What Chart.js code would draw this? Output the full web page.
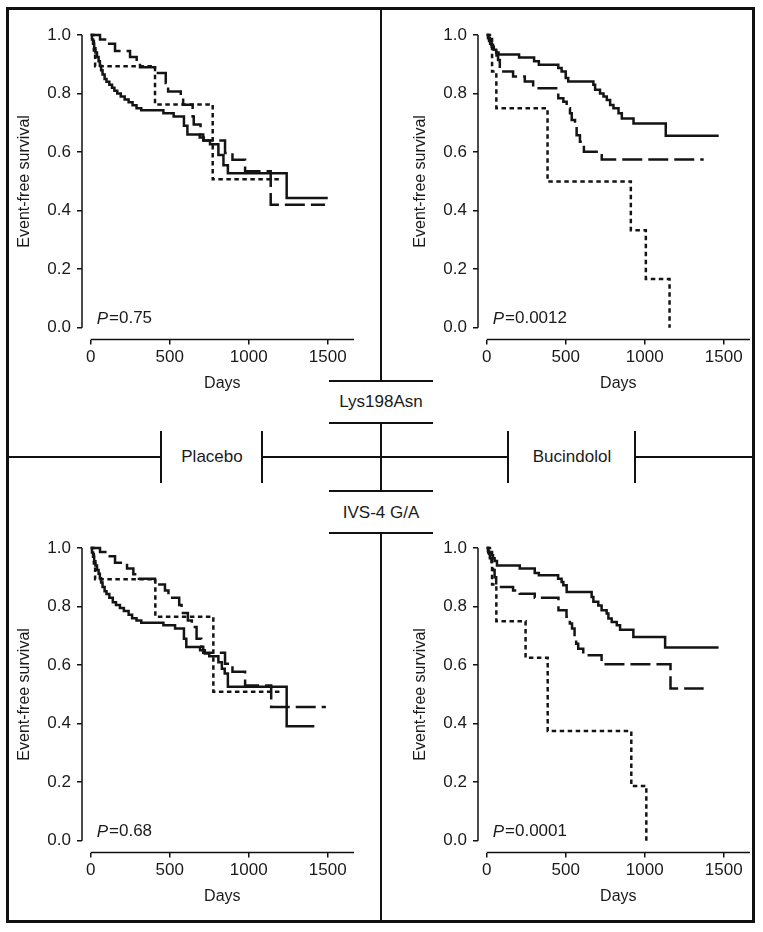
<!DOCTYPE html>
<html>
<head>
<meta charset="utf-8">
<title>Event-free survival by genotype: placebo vs bucindolol</title>
<script src="https://cdn.jsdelivr.net/npm/chart.js@4.4.1/dist/chart.umd.min.js"></script>
<style>
  body { margin: 0; background: #fff; }
  #figure {
    position: relative; width: 763px; height: 932px; background: #fff;
    font-family: "Liberation Sans", Arial, Helvetica, sans-serif; color: #1a1a1a;
  }
  .frame {
    position: absolute; left: 6px; top: 7px; width: 749px; height: 916px;
    border: 3px solid #111; box-sizing: border-box;
  }
  .hl, .vl { position: absolute; background: #111; }
  .hl { height: 2px; }
  .vl { width: 2px; }
  .label {
    position: absolute; width: 140px; height: 20px; line-height: 20px;
    font-size: 17px; text-align: center; white-space: nowrap;
  }
  canvas { position: absolute; }
</style>
</head>
<body>
<div id="figure">
  <div class="frame"></div>

  <!-- centre cross -->
  <div class="vl" style="left:380px;top:8px;height:373px"></div>
  <div class="vl" style="left:380px;top:422px;height:69px"></div>
  <div class="vl" style="left:380px;top:533px;height:389px"></div>
  <div class="hl" style="left:8px;top:456px;width:153px"></div>
  <div class="hl" style="left:261px;top:456px;width:248px"></div>
  <div class="hl" style="left:634px;top:456px;width:121px"></div>

  <!-- label brackets -->
  <div class="hl" style="left:329px;top:380px;width:104px"></div>
  <div class="hl" style="left:329px;top:422px;width:104px"></div>
  <div class="hl" style="left:329px;top:490px;width:104px"></div>
  <div class="hl" style="left:329px;top:532px;width:104px"></div>
  <div class="vl" style="left:160px;top:431px;height:52px"></div>
  <div class="vl" style="left:261px;top:431px;height:52px"></div>
  <div class="vl" style="left:507px;top:431px;height:52px"></div>
  <div class="vl" style="left:634px;top:431px;height:52px"></div>

  <div class="label" style="left:311px;top:392px">Lys198Asn</div>
  <div class="label" style="left:311px;top:503px">IVS-4 G/A</div>
  <div class="label" style="left:142px;top:447px">Placebo</div>
  <div class="label" style="left:502px;top:447px">Bucindolol</div>

  <canvas id="lys-placebo" width="365" height="400" style="left:0;top:0"></canvas>
  <canvas id="lys-bucindolol" width="365" height="400" style="left:396px;top:0"></canvas>
  <canvas id="ivs-placebo" width="365" height="400" style="left:0;top:513px"></canvas>
  <canvas id="ivs-bucindolol" width="365" height="400" style="left:396px;top:513px"></canvas>
</div>

<script>
// Axis ticks shared by the four panels
const dayTicks = [0, 500, 1000, 1500];
const survivalTicks = [0, 0.2, 0.4, 0.6, 0.8, 1.0];

// Kaplan-Meier curves as [day, event-free survival] steps

// Lys198Asn - placebo
const lysPlaceboSolid = [[0,1.0],[8,0.985],[15,0.97],[22,0.955],[30,0.94],[40,0.925],[50,0.91],[58,0.895],[66,0.88],[75,0.865],[88,0.85],[100,0.84],[118,0.83],[135,0.82],[150,0.81],[168,0.80],[190,0.79],[215,0.78],[240,0.77],[265,0.76],[290,0.75],[320,0.743],[460,0.733],[525,0.722],[590,0.69],[612,0.66],[690,0.65],[715,0.64],[755,0.627],[808,0.59],[840,0.555],[868,0.528],[1240,0.443],[1500,0.443]];
const lysPlaceboDashed = [[0,1.0],[59,0.985],[105,0.97],[154,0.945],[249,0.925],[291,0.905],[312,0.89],[407,0.87],[475,0.836],[490,0.807],[570,0.779],[585,0.762],[645,0.722],[652,0.694],[695,0.66],[712,0.64],[850,0.597],[897,0.574],[977,0.535],[1139,0.42],[1483,0.42]];
const lysPlaceboDotted = [[0,1.0],[20,0.947],[28,0.893],[407,0.763],[772,0.507],[1209,0.507]];
const lysPlaceboP = '0.75';

// Lys198Asn - bucindolol
const lysBucindololSolid = [[0,1.0],[8,0.99],[15,0.98],[22,0.97],[32,0.96],[45,0.95],[60,0.94],[75,0.933],[205,0.923],[300,0.91],[330,0.898],[453,0.887],[474,0.875],[500,0.853],[516,0.841],[675,0.83],[686,0.813],[717,0.80],[739,0.79],[760,0.778],[781,0.761],[802,0.75],[834,0.733],[855,0.715],[929,0.698],[1133,0.656],[1468,0.656]];
const lysBucindololDashed = [[0,1.0],[10,0.99],[20,0.978],[30,0.967],[40,0.955],[51,0.943],[62,0.93],[72,0.915],[83,0.875],[167,0.858],[241,0.841],[294,0.818],[453,0.784],[485,0.772],[506,0.75],[527,0.733],[538,0.71],[559,0.687],[569,0.658],[590,0.635],[605,0.624],[615,0.601],[728,0.575],[1373,0.575]];
const lysBucindololDotted = [[0,1.0],[34,0.875],[61,0.75],[385,0.5],[912,0.333],[1007,0.167],[1157,0]];
const lysBucindololP = '0.0012';

// IVS-4 G/A - placebo
const ivsPlaceboSolid = [[0,1.0],[8,0.985],[15,0.97],[22,0.955],[30,0.94],[40,0.925],[50,0.912],[58,0.897],[66,0.882],[75,0.867],[88,0.852],[100,0.843],[118,0.83],[140,0.815],[160,0.805],[185,0.795],[210,0.785],[240,0.772],[262,0.76],[290,0.752],[320,0.745],[460,0.736],[534,0.725],[590,0.69],[605,0.662],[692,0.651],[722,0.64],[750,0.63],[808,0.61],[830,0.588],[848,0.571],[868,0.526],[1240,0.391],[1415,0.391]];
const ivsPlaceboDashed = [[0,1.0],[59,0.986],[105,0.972],[154,0.95],[230,0.93],[270,0.91],[305,0.895],[407,0.875],[470,0.855],[492,0.83],[560,0.805],[575,0.778],[615,0.752],[640,0.73],[670,0.69],[700,0.663],[712,0.642],[850,0.605],[897,0.577],[977,0.53],[1142,0.457],[1488,0.457]];
const ivsPlaceboDotted = [[0,1.0],[20,0.947],[28,0.893],[409,0.765],[776,0.509],[1214,0.509]];
const ivsPlaceboP = '0.68';

// IVS-4 G/A - bucindolol
const ivsBucindololSolid = [[0,1.0],[8,0.99],[15,0.98],[25,0.975],[40,0.965],[50,0.956],[65,0.94],[209,0.93],[304,0.915],[330,0.907],[452,0.895],[474,0.884],[485,0.873],[506,0.85],[664,0.833],[675,0.816],[706,0.804],[727,0.787],[759,0.776],[770,0.759],[791,0.747],[823,0.736],[844,0.721],[928,0.696],[1129,0.66],[1467,0.66]];
const ivsBucindololDashed = [[0,1.0],[10,0.985],[20,0.965],[30,0.945],[40,0.925],[50,0.9],[60,0.867],[167,0.855],[209,0.844],[304,0.83],[454,0.787],[505,0.765],[526,0.742],[540,0.725],[556,0.696],[566,0.673],[579,0.656],[611,0.634],[727,0.603],[1163,0.52],[1373,0.52]];
const ivsBucindololDotted = [[0,1.0],[34,0.875],[61,0.75],[246,0.625],[386,0.375],[915,0.1875],[1010,0]];
const ivsBucindololP = '0.0001';

const FONT = '"Liberation Sans", Arial, Helvetica, sans-serif';
const INK = '#1a1a1a';

Chart.defaults.font.family = FONT;
Chart.defaults.color = INK;

// Detached axes (offset from each other), axis titles and P value
const kmAxes = {
    id: 'kmAxes',
    afterDraw(chart, args, opts) {
        const { ctx, chartArea, scales: { x, y } } = chart;
        const x0 = x.getPixelForValue(0);
        const y0 = y.getPixelForValue(0);
        const y1 = y.getPixelForValue(1);

        ctx.save();
        ctx.strokeStyle = '#111';
        ctx.lineWidth = 1.5;
        ctx.beginPath();
        ctx.moveTo(chartArea.left, y0);
        ctx.lineTo(chartArea.left, y1);
        ctx.moveTo(x0, chartArea.bottom);
        ctx.lineTo(chartArea.right, chartArea.bottom);
        ctx.stroke();

        ctx.fillStyle = INK;
        ctx.textBaseline = 'middle';
        ctx.textAlign = 'center';
        ctx.font = `16px ${FONT}`;
        ctx.fillText('Days', (x0 + chartArea.right) / 2, chartArea.bottom + 44);

        ctx.save();
        ctx.translate(chartArea.left - 57, (y0 + y1) / 2);
        ctx.rotate(-Math.PI / 2);
        ctx.fillText('Event-free survival', 0, 0);
        ctx.restore();

        // P value, italic P
        const px = x0 + 6;
        const py = y0 - 9;
        ctx.textAlign = 'left';
        ctx.font = `italic 17px ${FONT}`;
        ctx.fillText('P', px, py);
        const w = ctx.measureText('P').width;
        ctx.font = `17px ${FONT}`;
        ctx.fillText('=' + opts.pValue, px + w + 1, py);
        ctx.restore();
    }
};

function curve(label, steps, dash) {
    return {
        label: label,
        data: steps.map(([d, s]) => ({ x: d, y: s })),
        stepped: true,
        borderColor: '#141414',
        borderWidth: 2.5,
        borderDash: dash,
        pointRadius: 0,
        fill: false,
        clip: false
    };
}

function axisGrid() {
    return {
        drawOnChartArea: false,
        drawTicks: true,
        tickLength: 5,
        color: '#111',
        lineWidth: 1.5
    };
}

function makeKmChart(canvasId, solid, dashed, dotted, pValue) {
    const canvas = document.getElementById(canvasId);
    return new Chart(canvas, {
        type: 'line',
        data: {
            datasets: [
                curve('Solid', solid, []),
                curve('Dashed', dashed, [20, 6]),
                curve('Dotted', dotted, [4.5, 3.5])
            ]
        },
        options: {
            responsive: false,
            animation: false,
            layout: { padding: { top: 35, right: 11, left: 0, bottom: 0 } },
            plugins: {
                legend: { display: false },
                tooltip: { enabled: false },
                kmAxes: { pValue: pValue }
            },
            scales: {
                x: {
                    type: 'linear',
                    min: -55,
                    max: 1666,
                    afterFit: s => { s.height = 60.5; },
                    afterBuildTicks: s => { s.ticks = dayTicks.map(v => ({ value: v })); },
                    grid: axisGrid(),
                    border: { display: false },
                    ticks: {
                        padding: 3,
                        autoSkip: false,
                        maxRotation: 0,
                        color: INK,
                        font: { size: 17 },
                        callback: v => String(v)
                    }
                },
                y: {
                    type: 'linear',
                    min: -0.04,
                    max: 1,
                    afterFit: s => { s.width = 82; },
                    afterBuildTicks: s => { s.ticks = survivalTicks.map(v => ({ value: v })); },
                    grid: axisGrid(),
                    border: { display: false },
                    ticks: {
                        padding: 6,
                        color: INK,
                        font: { size: 17 },
                        callback: v => Number(v).toFixed(1)
                    }
                }
            }
        },
        plugins: [kmAxes]
    });
}

makeKmChart('lys-placebo', lysPlaceboSolid, lysPlaceboDashed, lysPlaceboDotted, lysPlaceboP);
makeKmChart('lys-bucindolol', lysBucindololSolid, lysBucindololDashed, lysBucindololDotted, lysBucindololP);
makeKmChart('ivs-placebo', ivsPlaceboSolid, ivsPlaceboDashed, ivsPlaceboDotted, ivsPlaceboP);
makeKmChart('ivs-bucindolol', ivsBucindololSolid, ivsBucindololDashed, ivsBucindololDotted, ivsBucindololP);
</script>
</body>
</html>
